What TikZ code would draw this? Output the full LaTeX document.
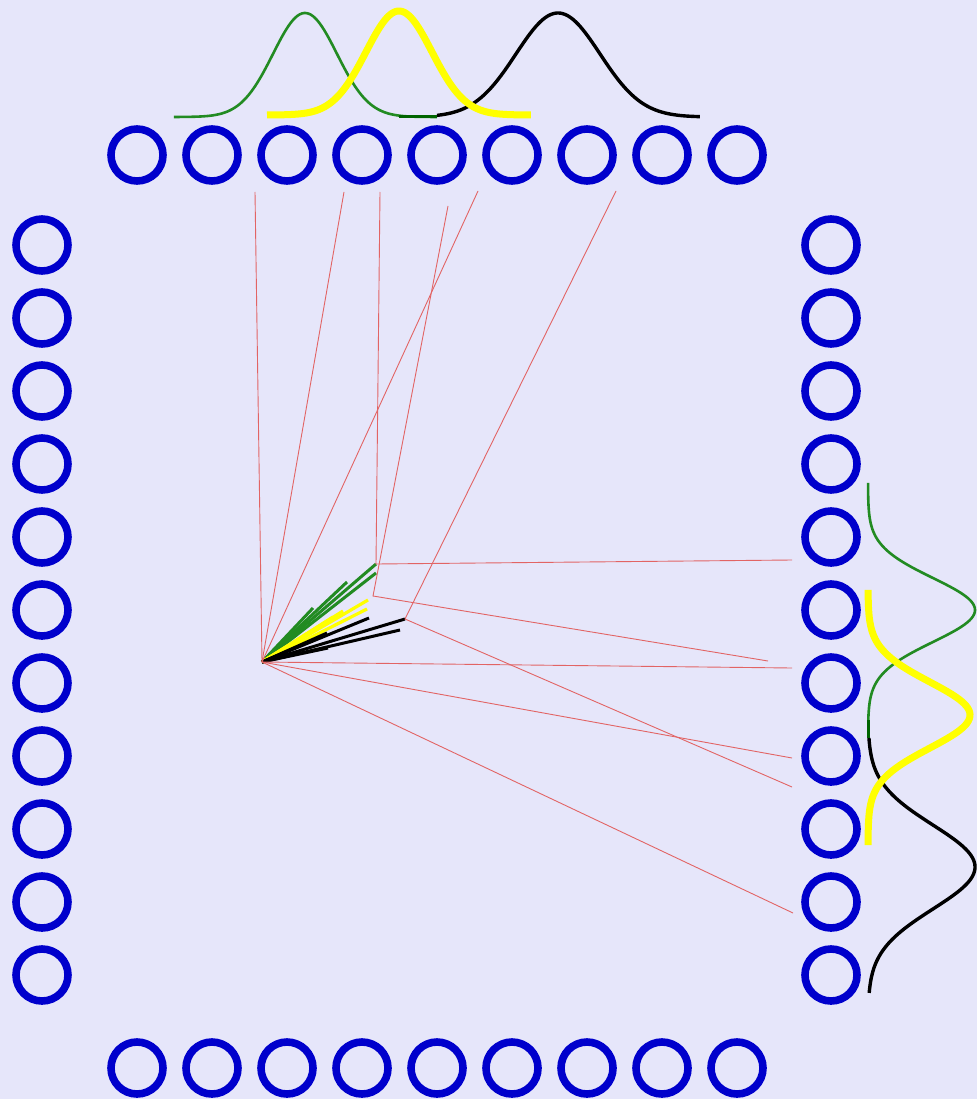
\documentclass[tikz,border=0pt]{standalone}
\definecolor{bg}{RGB}{230,230,250}
\definecolor{ringblue}{RGB}{0,0,204}
\definecolor{gGreen}{RGB}{34,139,34}
\definecolor{gDark}{RGB}{0,100,0}
\definecolor{gYellow}{RGB}{255,255,0}
\definecolor{rline}{RGB}{226,100,100}
\begin{document}
\begin{tikzpicture}[x=1pt,y=-1pt,
  ring/.style={circle,draw=ringblue,line width=7.6pt,minimum size=52pt,inner sep=0pt},
  link/.style={draw=rline,line width=0.9pt},
  greencurve/.style={draw=gGreen,line width=2.6pt},
  yellowcurve/.style={draw=gYellow,line width=7pt},
  blackcurve/.style={draw=black,line width=3.4pt},
  darkseg/.style={draw=gDark,line width=3pt},
  gvec/.style={draw=gGreen,line width=3pt},
  yvec/.style={draw=gYellow,line width=3.2pt},
  kvec/.style={draw=black,line width=3pt}]
\fill[bg] (0,0) rectangle (977,1099);
\useasboundingbox (0,0) rectangle (977,1099);

% rings
\foreach \i in {1,...,9} {
  \node[ring] (t\i) at ({62+75*\i},155) {};
  \node[ring] (b\i) at ({62+75*\i},1068) {};
}
\foreach \i in {1,...,11} {
  \node[ring] (l\i) at (42,{172+73*\i}) {};
  \node[ring] (r\i) at (831,{172+73*\i}) {};
}

% top gaussians
\draw[greencurve] plot[domain=-4.1:4.12,samples=120,smooth] ({305+32*\x},{117-104*exp(-\x*\x/2)});
\draw[darkseg] (399,117) -- (437,117);
\draw[blackcurve] plot[domain=-2.88:3.38,samples=120,smooth] ({558+42*\x},{117-104*exp(-\x*\x/2)});
\draw[yellowcurve] plot[domain=-4.0:4.0,samples=120,smooth] ({399+33*\x},{115-104*exp(-\x*\x/2)});

% right gaussians
\draw[greencurve] plot[domain=-3.97:3.44,samples=120,smooth] ({868+107*exp(-\x*\x/2)},{610+32*\x});
\draw[darkseg] (868,720) -- (868,738);
\draw[blackcurve] plot[domain=-3.07:3.0,samples=120,smooth] ({868+107*exp(-\x*\x/2)},{867+42*\x});
\draw[yellowcurve] plot[domain=-3.79:3.94,samples=120,smooth] ({868+102*exp(-\x*\x/2)},{715+33*\x});

% key points
\coordinate (O) at (262,662);
\coordinate (cG) at (376,564);
\coordinate (cY) at (373,596);
\coordinate (cK) at (405,619);
\coordinate (a1) at (255,192);
\coordinate (a2) at (344,192);
\coordinate (a3) at (380,192);
\coordinate (a4) at (448,206);
\coordinate (a5) at (478,191);
\coordinate (a6) at (616,191);
\coordinate (e1) at (792,560);
\coordinate (e2) at (768,661);
\coordinate (e3) at (792,668);
\coordinate (e4) at (792,758);
\coordinate (e5) at (792,787);
\coordinate (e6) at (793,913);

% fan vectors
\coordinate (g1) at (376,564);
\coordinate (g2) at (376,573);
\coordinate (g3) at (347,582);
\coordinate (g4) at (313,608);
\coordinate (g5) at (305,622);
\coordinate (y1) at (368,600);
\coordinate (y2) at (367,609);
\coordinate (y3) at (343,611);
\coordinate (y4) at (333,617);
\coordinate (y5) at (318,628);
\coordinate (k1) at (405,619);
\coordinate (k2) at (400,630);
\coordinate (k3) at (369,618);
\coordinate (k4) at (327,633);
\coordinate (k5) at (328,648);
\foreach \p in {g1,g2,g3,g4,g5} \draw[gvec] (O) -- (\p);
\foreach \p in {y1,y2,y3,y4,y5} \draw[yvec] (O) -- (\p);
\foreach \p in {k1,k2,k3,k4,k5} \draw[kvec] (O) -- (\p);

% red links
\foreach \p in {a1,a2,a5,e3,e4,e6} \draw[link] (O) -- (\p);
\draw[link] (a3) -- (cG) -- (e1);
\draw[link] (a4) -- (cY) -- (e2);
\draw[link] (a6) -- (cK) -- (e5);
\end{tikzpicture}
\end{document}
